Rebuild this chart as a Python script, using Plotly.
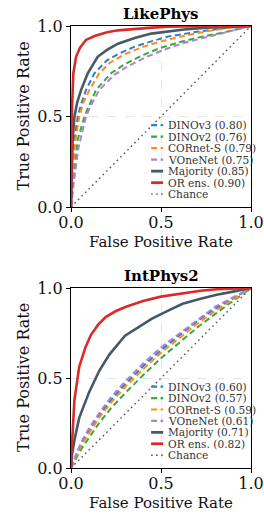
import plotly.graph_objects as go

# ---------------- data ----------------
series_names = ["DINOv3", "DINOv2", "CORnet-S", "VOneNet", "Majority", "OR ens."]
panel_titles = ["LikePhys", "IntPhys2"]
auc_likephys = ["0.80", "0.76", "0.79", "0.75", "0.85", "0.90"]
auc_intphys2 = ["0.60", "0.57", "0.59", "0.61", "0.71", "0.82"]
tick_vals = [0, 0.5, 1.0]
tick_text = ["0.0", "0.5", "1.0"]
x_title = "False Positive Rate"
y_title = "True Positive Rate"

# LikePhys
lp_dinov3_fpr = [0, 0.003, 0.009, 0.019, 0.037, 0.057, 0.083, 0.13, 0.2, 0.261, 0.354, 0.446, 0.539, 0.7, 0.85, 1.0]
lp_dinov3_tpr = [0, 0.08, 0.186, 0.37, 0.499, 0.57, 0.646, 0.739, 0.81, 0.845, 0.886, 0.915, 0.942, 0.968, 0.988, 1.0]
lp_dinov2_fpr = [0, 0.004, 0.013, 0.037, 0.074, 0.1, 0.139, 0.222, 0.3, 0.4, 0.5, 0.6, 0.7, 0.85, 1.0]
lp_dinov2_tpr = [0, 0.06, 0.15, 0.37, 0.499, 0.56, 0.646, 0.739, 0.79, 0.84, 0.88, 0.91, 0.935, 0.965, 1.0]
lp_cornet_fpr = [0, 0.003, 0.01, 0.022, 0.046, 0.07, 0.102, 0.157, 0.22, 0.3, 0.4, 0.5, 0.6, 0.75, 0.88, 1.0]
lp_cornet_tpr = [0, 0.07, 0.17, 0.35, 0.499, 0.58, 0.646, 0.739, 0.8, 0.845, 0.885, 0.915, 0.94, 0.97, 0.99, 1.0]
lp_vonenet_fpr = [0, 0.005, 0.015, 0.04, 0.083, 0.11, 0.157, 0.24, 0.32, 0.42, 0.52, 0.62, 0.72, 0.86, 1.0]
lp_vonenet_tpr = [0, 0.05, 0.13, 0.32, 0.499, 0.56, 0.646, 0.73, 0.78, 0.83, 0.87, 0.905, 0.93, 0.962, 1.0]
lp_majority_fpr = [0, 0.004, 0.009, 0.019, 0.035, 0.056, 0.093, 0.148, 0.2, 0.261, 0.354, 0.446, 0.539, 0.65, 0.75, 0.85, 1.0]
lp_majority_tpr = [0, 0.186, 0.37, 0.499, 0.58, 0.646, 0.739, 0.83, 0.868, 0.902, 0.934, 0.958, 0.971, 0.983, 0.991, 0.996, 1.0]
lp_or_fpr = [0, 0.003, 0.006, 0.013, 0.028, 0.05, 0.083, 0.131, 0.2, 0.261, 0.354, 0.45, 0.539, 0.7, 1.0]
lp_or_tpr = [0, 0.35, 0.554, 0.739, 0.83, 0.88, 0.923, 0.945, 0.965, 0.976, 0.985, 0.991, 0.996, 0.999, 1.0]

# IntPhys2
ip_dash_fpr = [0, 0.01, 0.03, 0.06, 0.1, 0.16, 0.22, 0.3, 0.4, 0.5, 0.6, 0.7, 0.8, 0.9, 0.95, 1.0]
ip_dinov3_tpr = [0, 0.028, 0.075, 0.14, 0.21, 0.30, 0.375, 0.465, 0.565, 0.655, 0.735, 0.815, 0.885, 0.942, 0.972, 1.0]
ip_dinov2_tpr = [0, 0.02, 0.055, 0.11, 0.17, 0.255, 0.33, 0.415, 0.515, 0.61, 0.695, 0.78, 0.855, 0.925, 0.962, 1.0]
ip_cornet_tpr = [0, 0.025, 0.07, 0.13, 0.195, 0.285, 0.36, 0.45, 0.548, 0.64, 0.72, 0.80, 0.872, 0.935, 0.968, 1.0]
ip_vonenet_tpr = [0, 0.03, 0.08, 0.15, 0.22, 0.31, 0.39, 0.48, 0.58, 0.67, 0.745, 0.825, 0.895, 0.948, 0.975, 1.0]
ip_majority_fpr = [0, 0.005, 0.02, 0.046, 0.1, 0.157, 0.213, 0.27, 0.3, 0.38, 0.45, 0.54, 0.62, 0.72, 0.81, 0.9, 0.97, 1.0]
ip_majority_tpr = [0, 0.07, 0.16, 0.28, 0.42, 0.54, 0.63, 0.70, 0.735, 0.785, 0.83, 0.874, 0.912, 0.94, 0.963, 0.98, 0.993, 1.0]
ip_or_fpr = [0, 0.002, 0.009, 0.019, 0.046, 0.08, 0.111, 0.15, 0.194, 0.25, 0.306, 0.4, 0.5, 0.62, 0.72, 0.81, 0.9, 1.0]
ip_or_tpr = [0, 0.1, 0.193, 0.378, 0.563, 0.67, 0.74, 0.795, 0.84, 0.872, 0.896, 0.928, 0.952, 0.972, 0.985, 0.993, 0.998, 1.0]

chance_fpr = [0, 1]
chance_tpr = [0, 1]

# ---------------- styles ----------------
colors = ["#2f7fc1", "#3aa93a", "#ff8c1a", "#a782d8", "#455a64", "#dc2a2a"]
dashes = ["6px,3.5px", "6px,3.5px", "6px,3.5px", "6px,3.5px", "solid", "solid"]
widths = [2.0, 2.0, 2.0, 2.0, 2.6, 2.6]
chance_color = "#555555"
chance_dash = "1.6px,3.4px"
FONT = "DejaVu Serif"

W, H = 264, 514
ML, MR, MT, MB = 71, 13, 26, 46
PW = W - ML - MR
PH = H - MT - MB


def px_to_paper_x(px):
    return (px - ML) / PW


def py_to_paper_y(py):
    return (H - MB - py) / PH


panels = [
    dict(curves=[(lp_dinov3_fpr, lp_dinov3_tpr), (lp_dinov2_fpr, lp_dinov2_tpr),
                 (lp_cornet_fpr, lp_cornet_tpr), (lp_vonenet_fpr, lp_vonenet_tpr),
                 (lp_majority_fpr, lp_majority_tpr), (lp_or_fpr, lp_or_tpr)],
         aucs=auc_likephys, xa="x", ya="y", top=26, bottom=207),
    dict(curves=[(ip_dash_fpr, ip_dinov3_tpr), (ip_dash_fpr, ip_dinov2_tpr),
                 (ip_dash_fpr, ip_cornet_tpr), (ip_dash_fpr, ip_vonenet_tpr),
                 (ip_majority_fpr, ip_majority_tpr), (ip_or_fpr, ip_or_tpr)],
         aucs=auc_intphys2, xa="x2", ya="y2", top=288, bottom=468),
]

fig = go.Figure()
shapes = []
annotations = []

for pi, p in enumerate(panels):
    fig.add_trace(go.Scatter(x=chance_fpr, y=chance_tpr, mode="lines",
                             line=dict(color=chance_color, width=1.4, dash=chance_dash),
                             xaxis=p["xa"], yaxis=p["ya"], showlegend=False, hoverinfo="skip"))
    for i, (fx, ty) in enumerate(p["curves"]):
        fig.add_trace(go.Scatter(x=fx, y=ty, mode="lines",
                                 line=dict(color=colors[i], width=widths[i], dash=dashes[i]),
                                 name=f"{series_names[i]} ({p['aucs'][i]})",
                                 xaxis=p["xa"], yaxis=p["ya"], showlegend=False))
    # custom legend (inside, lower right)
    labels = [f"{series_names[i]} ({p['aucs'][i]})" for i in range(6)] + ["Chance"]
    lcolors = colors + [chance_color]
    ldash = dashes + [chance_dash]
    lwidths = [2.2, 2.2, 2.2, 2.2, 2.8, 2.8, 1.4]
    y0 = 0.452
    step = 0.0635
    for k, lab in enumerate(labels):
        yk = y0 - k * step
        shapes.append(dict(type="line", xref=p["xa"], yref=p["ya"], x0=0.445, x1=0.512,
                           y0=yk, y1=yk,
                           line=dict(color=lcolors[k], width=lwidths[k], dash=ldash[k])))
        annotations.append(dict(x=0.525, y=yk, xref=p["xa"], yref=p["ya"], text=lab,
                                showarrow=False, xanchor="left", yanchor="middle",
                                font=dict(family=FONT, size=10.6, color="#333333")))
    # panel title
    annotations.append(dict(text=f"<b>{panel_titles[pi]}</b>", x=0.5,
                            y=py_to_paper_y(p["top"] - 12), xref="paper", yref="paper",
                            xanchor="center", yanchor="middle", showarrow=False,
                            font=dict(family=FONT, size=15, color="black")))
    # axis titles
    annotations.append(dict(text=x_title, x=0.5, y=py_to_paper_y(p["bottom"] + 35),
                            xref="paper", yref="paper", xanchor="center", yanchor="middle",
                            showarrow=False, font=dict(family=FONT, size=15, color="#111111")))
    annotations.append(dict(text=y_title, x=px_to_paper_x(23),
                            y=py_to_paper_y((p["top"] + p["bottom"]) / 2),
                            xref="paper", yref="paper", xanchor="center", yanchor="middle",
                            textangle=-90, showarrow=False,
                            font=dict(family=FONT, size=16, color="#111111")))

axis_common = dict(range=[0, 1], tickvals=tick_vals, ticktext=tick_text,
                   showline=True, mirror=True, linecolor="black", linewidth=1.3,
                   ticks="outside", ticklen=4, tickwidth=1.3, tickcolor="black",
                   showgrid=True, gridcolor="#e6e6e6", gridwidth=0.8, griddash="dash",
                   zeroline=False, tickfont=dict(family=FONT, size=16, color="#111111"),
                   automargin=False, fixedrange=True)

top_dom = [py_to_paper_y(207), 1.0]
bot_dom = [0.0, py_to_paper_y(288)]

fig.update_layout(
    width=W, height=H,
    margin=dict(l=ML, r=MR, t=MT, b=MB),
    paper_bgcolor="white", plot_bgcolor="white",
    showlegend=False,
    xaxis=dict(axis_common, domain=[0, 1], anchor="y", ticklabelstandoff=-3),
    yaxis=dict(axis_common, domain=top_dom, anchor="x"),
    xaxis2=dict(axis_common, domain=[0, 1], anchor="y2", ticklabelstandoff=-3),
    yaxis2=dict(axis_common, domain=bot_dom, anchor="x2"),
    shapes=shapes,
    annotations=annotations,
)

fig.write_html("out.html", config={"displayModeBar": False},
               post_script="document.body.style.margin='0';document.body.style.padding='0';")
